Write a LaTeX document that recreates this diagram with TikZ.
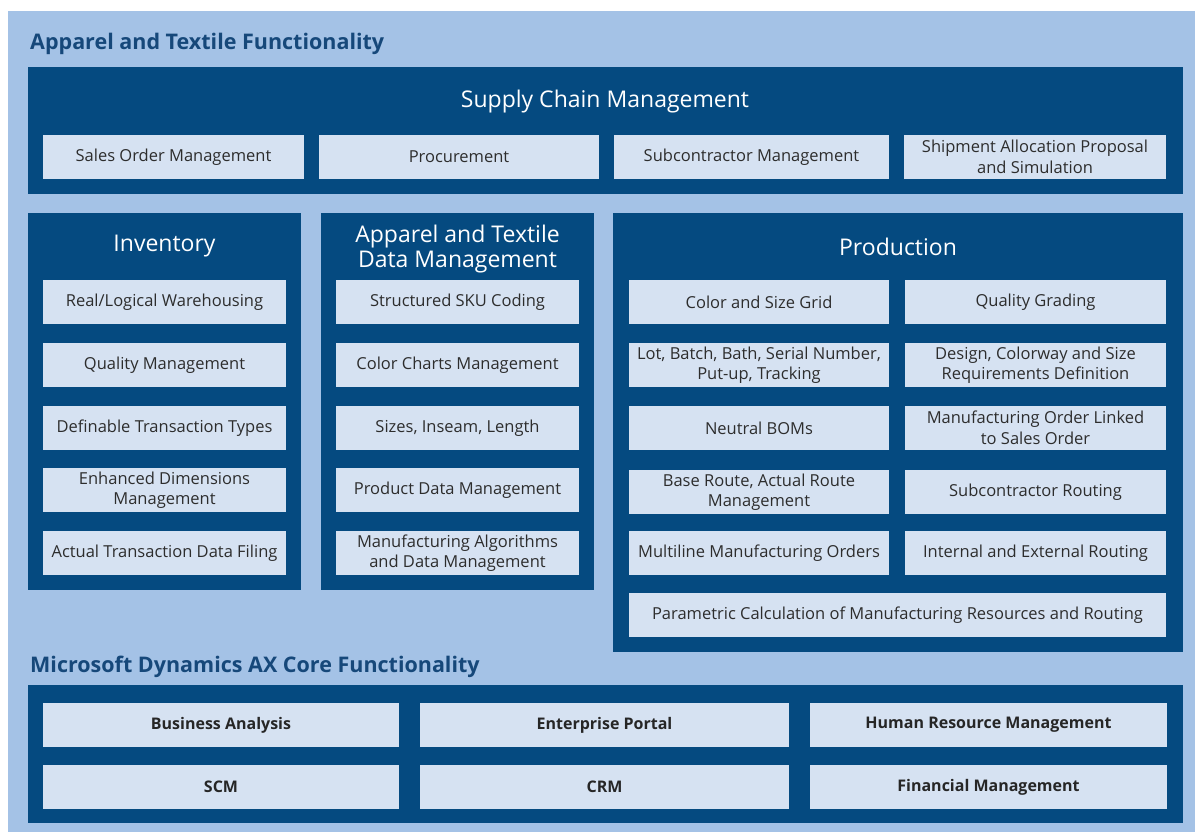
\documentclass[tikz,border=0pt]{standalone}
\usepackage{fontspec}
\setmainfont{Open Sans}
\usepackage{tikz}

\definecolor{bgblue}{RGB}{164,194,230}
\definecolor{panelblue}{RGB}{5,74,128}
\definecolor{itemblue}{RGB}{214,226,242}
\definecolor{titleblue}{RGB}{22,72,122}
\definecolor{itemtext}{RGB}{45,45,45}

\tikzset{
  panel/.style={fill=panelblue, inner sep=0pt},
  item/.style={fill=itemblue, inner sep=0pt, minimum height=44pt, align=center,
    text=itemtext, font=\fontsize{16.5}{20.5}\selectfont},
  coreitem/.style={item, text=black!85, font=\fontsize{16}{20}\selectfont\bfseries},
  head/.style={text=white, align=center, font=\fontsize{23}{25.5}\selectfont},
  sectiontitle/.style={anchor=west, text=titleblue, inner sep=0pt,
    font=\fontsize{21.5}{24}\selectfont\bfseries},
}

\begin{document}
\begin{tikzpicture}[x=1pt, y=-1pt]
    \useasboundingbox (0,0) rectangle (1195,832);
    \fill[bgblue] (8,11) rectangle (1195,832);

    % apparel and textile part
    \node[sectiontitle] (apptitle) at (30,44) {Apparel and Textile Functionality};

    \node[panel, minimum width=1155pt, minimum height=127pt] (scm) at (605.5,130.5) {};
    \node[head] (scmhead) at (605,102) {Supply Chain Management};
    \node[item, minimum width=261pt] (salesorder) at (173.5,157) {Sales Order Management};
    \node[item, minimum width=280pt] (procure) at (459,157) {Procurement};
    \node[item, minimum width=275pt] (subman) at (751.5,157) {Subcontractor Management};
    \node[item, minimum width=262pt] (shipment) at (1035,157) {Shipment Allocation Proposal\\and Simulation};

    \node[panel, minimum width=273pt, minimum height=377pt] (inv) at (164.5,401.5) {};
    \node[head] (invhead) at (164.5,246) {Inventory};
    \node[item, minimum width=243pt] (warehousing) at (164.5,302) {Real/Logical Warehousing};
    \node[item, minimum width=243pt] (quality) at (164.5,365) {Quality Management};
    \node[item, minimum width=243pt] (transtypes) at (164.5,428) {Definable Transaction Types};
    \node[item, minimum width=243pt] (dimensions) at (164.5,490) {Enhanced Dimensions\\Management};
    \node[item, minimum width=243pt] (filing) at (164.5,553) {Actual Transaction Data Filing};

    \node[panel, minimum width=273pt, minimum height=377pt] (datam) at (457.5,401.5) {};
    \node[head] (datamhead) at (457.5,249) {Apparel and Textile\\Data Management};
    \node[item, minimum width=243pt] (sku) at (457.5,302) {Structured SKU Coding};
    \node[item, minimum width=243pt] (colorcharts) at (457.5,365) {Color Charts Management};
    \node[item, minimum width=243pt] (sizes) at (457.5,428) {Sizes, Inseam, Length};
    \node[item, minimum width=243pt] (productdata) at (457.5,490) {Product Data Management};
    \node[item, minimum width=243pt] (algorithms) at (457.5,553) {Manufacturing Algorithms\\and Data Management};

    \node[panel, minimum width=570pt, minimum height=439pt] (prod) at (898,432.5) {};
    \node[head] (prodhead) at (898,247) {Production};
    \node[item, minimum width=260pt] (grid) at (759,302) {Color and Size Grid};
    \node[item, minimum width=261pt] (grading) at (1035.5,302) {Quality Grading};
    \node[item, minimum width=260pt] (lot) at (759,365) {Lot, Batch, Bath, Serial Number,\\Put-up, Tracking};
    \node[item, minimum width=261pt] (design) at (1035.5,365) {Design, Colorway and Size\\Requirements Definition};
    \node[item, minimum width=260pt] (boms) at (759,428) {Neutral BOMs};
    \node[item, minimum width=261pt] (linked) at (1035.5,428) {Manufacturing Order Linked\\to Sales Order};
    \node[item, minimum width=260pt] (route) at (759,492) {Base Route, Actual Route\\Management};
    \node[item, minimum width=261pt] (subrouting) at (1035.5,492) {Subcontractor Routing};
    \node[item, minimum width=260pt] (multiline) at (759,553) {Multiline Manufacturing Orders};
    \node[item, minimum width=261pt] (intext) at (1035.5,553) {Internal and External Routing};
    \node[item, minimum width=537pt] (parametric) at (897.5,615) {Parametric Calculation of Manufacturing Resources and Routing};

    % core part
    \node[sectiontitle] (coretitle) at (30,667) {Microsoft Dynamics AX Core Functionality};

    \node[panel, minimum width=1155pt, minimum height=138pt] (core) at (605.5,754) {};
    \node[coreitem, minimum width=356pt] (business) at (221,725) {Business Analysis};
    \node[coreitem, minimum width=369pt] (portal) at (604.5,725) {Enterprise Portal};
    \node[coreitem, minimum width=357pt] (hrm) at (988.5,725) {Human Resource Management};
    \node[coreitem, minimum width=356pt] (scmcore) at (221,787) {SCM};
    \node[coreitem, minimum width=369pt] (crm) at (604.5,787) {CRM};
    \node[coreitem, minimum width=357pt] (financial) at (988.5,787) {Financial Management};
  \end{tikzpicture}
\end{document}
